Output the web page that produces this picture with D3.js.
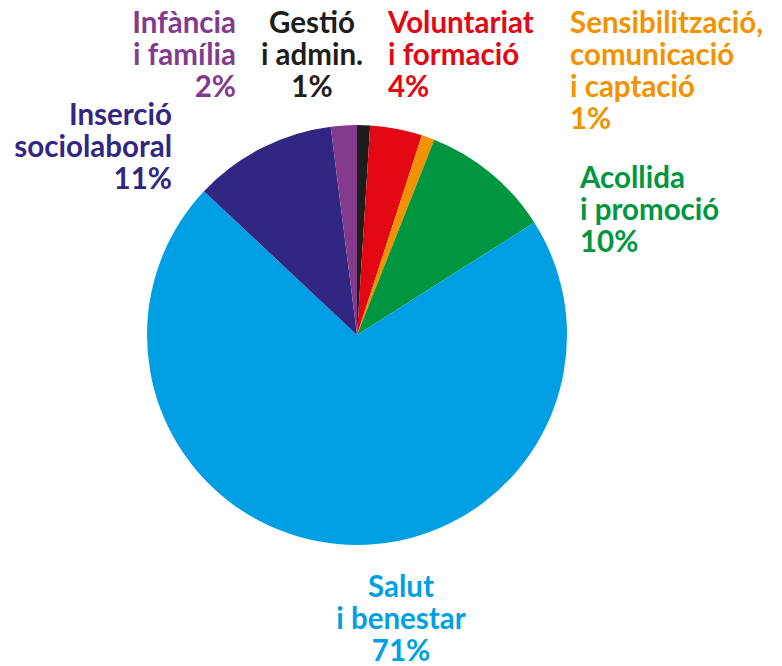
<!DOCTYPE html>
<html><head><meta charset="utf-8">
<script src="https://cdn.jsdelivr.net/npm/d3@7"></script>
<style>body{margin:0;background:#fff}svg{display:block}text{font-family:Lato,"Open Sans",sans-serif;font-weight:700}</style>
</head><body>
<svg id="c" width="782" height="666"></svg>
<script>
const categories = ["Gestió i admin.", "Voluntariat i formació", "Sensibilització, comunicació i captació", "Acollida i promoció", "Salut i benestar", "Inserció sociolaboral", "Infància i família"];
const values = [1, 4, 1, 10, 71, 11, 2];
const colors = ["#1d1d1b", "#e30613", "#f39200", "#009640", "#009fe3", "#312783", "#833a8c"];
const labelLines = [
  ["Gestió", "i admin.", "1%"],
  ["Voluntariat", "i formació", "4%"],
  ["Sensibilització,", "comunicació", "i captació", "1%"],
  ["Acollida", "i promoció", "10%"],
  ["Salut", "i benestar", "71%"],
  ["Inserció", "sociolaboral", "11%"],
  ["Infància", "i família", "2%"]
];
// label anchor layout (x, first baseline, alignment)
const labelPos = [
  [312, 33, "middle"],
  [388, 33, "start"],
  [570, 33, "start"],
  [580, 188, "start"],
  [401, 597, "middle"],
  [172, 125, "end"],
  [236, 33, "end"]
];
const svg = d3.select("#c");
const cx = 357, cy = 335, R = 210;
const pie = d3.pie().sort(null).value(d => d)(values);
const arc = d3.arc().innerRadius(0).outerRadius(R);
const g = svg.append("g").attr("transform", `translate(${cx},${cy})`);
g.selectAll("path").data(pie).join("path")
  .attr("d", arc).attr("fill", (d, i) => colors[i]);

const lineH = 32;
labelLines.forEach((lines, i) => {
  const [x, y, anchor] = labelPos[i];
  const t = svg.append("text").attr("x", x).attr("y", y)
    .attr("text-anchor", anchor).attr("fill", colors[i])
    .style("font-size", "29.5px");
  lines.forEach((l, j) => t.append("tspan").attr("x", x).attr("y", y + j * lineH).text(l));
});
</script>
</body></html>
